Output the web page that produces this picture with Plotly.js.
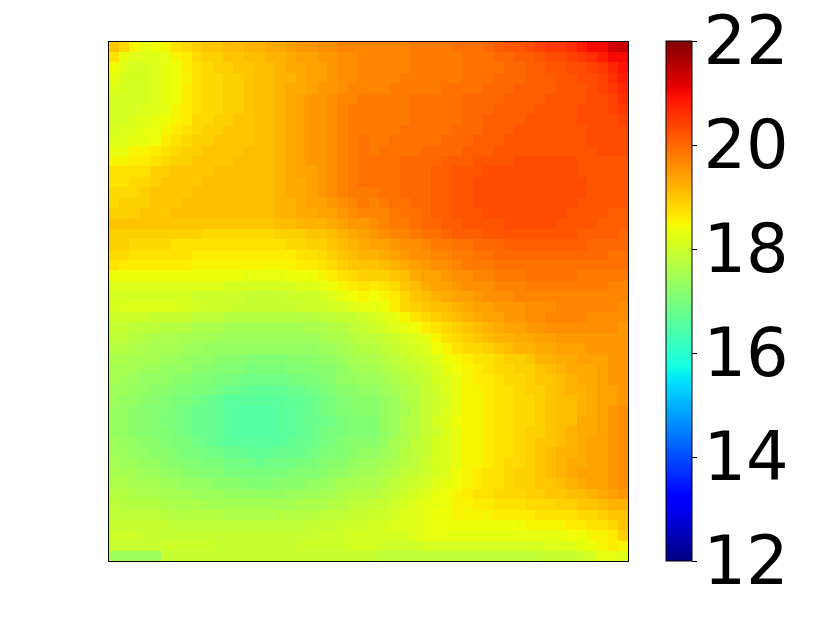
<!DOCTYPE html>
<html>
<head>
<meta charset="utf-8">
<script src="https://cdn.plot.ly/plotly-3.0.1.min.js"></script>
<style>html,body{margin:0;padding:0;background:#fff}</style>
</head>
<body>
<div id="chart" style="width:822px;height:617px"></div>
<script>
// colour bar range and labels
const zMin = 12;
const zMax = 22;
const barTicks = [12, 14, 16, 18, 20, 22];

// values, 50 rows top to bottom, 50 columns left to right
const grid = [
[19.0,18.8,18.5,18.3,18.4,18.5,18.7,18.8,18.9,19.0,19.0,19.1,19.1,19.2,19.2,19.3,19.3,19.4,19.5,19.5,19.6,19.6,19.7,19.7,19.7,19.7,19.7,19.7,19.7,19.8,19.8,19.8,19.8,19.9,19.9,19.9,20.0,20.1,20.2,20.2,20.3,20.4,20.5,20.5,20.6,20.8,21.0,21.0,21.3,21.4],
[18.7,18.3,18.2,18.2,18.2,18.3,18.5,18.6,18.8,18.9,18.9,19.0,19.0,19.1,19.1,19.2,19.2,19.3,19.4,19.4,19.5,19.5,19.6,19.6,19.7,19.7,19.7,19.7,19.7,19.8,19.8,19.8,19.8,19.8,19.9,19.9,19.9,20.0,20.0,20.1,20.1,20.2,20.3,20.3,20.4,20.5,20.6,20.8,21.0,21.0],
[18.4,18.2,18.1,18.1,18.2,18.3,18.4,18.6,18.7,18.8,18.9,18.9,19.0,19.0,19.1,19.1,19.2,19.3,19.3,19.4,19.4,19.5,19.6,19.6,19.7,19.7,19.7,19.7,19.7,19.8,19.8,19.8,19.8,19.8,19.9,19.9,19.9,19.9,20.0,20.0,20.1,20.1,20.2,20.2,20.3,20.3,20.4,20.5,20.7,20.9],
[18.3,18.1,18.1,18.1,18.2,18.3,18.4,18.5,18.7,18.8,18.8,18.9,18.9,19.0,19.1,19.1,19.2,19.2,19.3,19.4,19.4,19.5,19.6,19.6,19.7,19.7,19.7,19.7,19.8,19.8,19.8,19.8,19.8,19.8,19.9,19.9,19.9,20.0,20.0,20.0,20.1,20.1,20.1,20.2,20.2,20.3,20.3,20.4,20.6,20.8],
[18.2,18.1,18.1,18.1,18.2,18.3,18.4,18.6,18.7,18.8,18.8,18.9,18.9,19.0,19.1,19.1,19.2,19.3,19.3,19.4,19.5,19.5,19.6,19.7,19.7,19.7,19.7,19.8,19.8,19.8,19.8,19.8,19.9,19.9,19.9,19.9,20.0,20.0,20.0,20.1,20.1,20.1,20.1,20.2,20.2,20.2,20.3,20.4,20.5,20.7],
[18.1,18.1,18.1,18.1,18.2,18.3,18.4,18.6,18.7,18.8,18.8,18.9,18.9,19.0,19.1,19.1,19.2,19.3,19.4,19.5,19.5,19.6,19.7,19.7,19.8,19.8,19.8,19.8,19.8,19.9,19.9,19.9,19.9,19.9,20.0,20.0,20.0,20.0,20.1,20.1,20.1,20.1,20.2,20.2,20.2,20.2,20.3,20.3,20.4,20.6],
[18.1,18.1,18.1,18.2,18.2,18.3,18.5,18.6,18.7,18.8,18.8,18.9,18.9,19.0,19.1,19.1,19.2,19.3,19.4,19.5,19.5,19.6,19.7,19.8,19.8,19.8,19.8,19.8,19.8,19.9,19.9,19.9,19.9,19.9,20.0,20.0,20.0,20.1,20.1,20.1,20.1,20.2,20.2,20.2,20.2,20.3,20.3,20.3,20.4,20.5],
[18.1,18.1,18.2,18.2,18.3,18.4,18.5,18.6,18.8,18.8,18.9,18.9,19.0,19.0,19.1,19.1,19.2,19.3,19.4,19.5,19.5,19.6,19.7,19.8,19.8,19.8,19.8,19.8,19.8,19.9,19.9,19.9,19.9,19.9,20.0,20.0,20.1,20.1,20.1,20.1,20.2,20.2,20.2,20.2,20.2,20.3,20.3,20.3,20.3,20.4],
[18.1,18.2,18.2,18.3,18.3,18.5,18.6,18.7,18.8,18.9,18.9,19.0,19.0,19.0,19.1,19.1,19.2,19.3,19.4,19.5,19.5,19.6,19.7,19.8,19.8,19.8,19.8,19.8,19.9,19.9,19.9,19.9,19.9,20.0,20.0,20.0,20.1,20.1,20.1,20.2,20.2,20.2,20.2,20.2,20.2,20.2,20.3,20.3,20.3,20.3],
[18.2,18.2,18.3,18.3,18.4,18.6,18.7,18.8,18.9,18.9,19.0,19.0,19.0,19.0,19.1,19.1,19.2,19.3,19.4,19.5,19.5,19.6,19.7,19.8,19.9,19.8,19.8,19.9,19.9,19.9,19.9,19.9,20.0,20.0,20.0,20.1,20.1,20.1,20.2,20.2,20.2,20.2,20.2,20.2,20.2,20.2,20.3,20.3,20.3,20.3],
[18.3,18.3,18.5,18.5,18.6,18.7,18.8,18.9,18.9,19.0,19.0,19.0,19.0,19.1,19.1,19.1,19.2,19.3,19.4,19.5,19.5,19.6,19.7,19.8,19.9,19.8,19.9,19.9,19.9,19.9,20.0,20.0,20.0,20.0,20.1,20.1,20.1,20.2,20.2,20.2,20.2,20.2,20.2,20.2,20.2,20.2,20.2,20.3,20.3,20.3],
[18.5,18.5,18.6,18.6,18.7,18.8,18.9,18.9,19.0,19.0,19.0,19.0,19.1,19.1,19.1,19.1,19.2,19.3,19.4,19.5,19.5,19.6,19.7,19.8,19.9,19.9,19.9,19.9,20.0,20.0,20.0,20.0,20.1,20.1,20.1,20.2,20.2,20.2,20.2,20.3,20.3,20.3,20.3,20.3,20.3,20.2,20.2,20.2,20.2,20.2],
[18.7,18.7,18.7,18.7,18.9,18.9,19.0,19.0,19.0,19.0,19.1,19.1,19.1,19.1,19.1,19.1,19.2,19.3,19.4,19.4,19.5,19.6,19.7,19.8,19.9,19.9,19.9,19.9,20.0,20.0,20.0,20.1,20.1,20.2,20.2,20.2,20.3,20.3,20.3,20.3,20.3,20.3,20.3,20.3,20.3,20.2,20.2,20.2,20.2,20.2],
[18.7,18.7,18.8,18.8,18.9,19.0,19.0,19.0,19.0,19.1,19.1,19.1,19.1,19.1,19.1,19.1,19.2,19.3,19.3,19.4,19.5,19.6,19.7,19.8,19.9,19.9,19.9,19.9,20.0,20.0,20.0,20.1,20.1,20.2,20.2,20.3,20.3,20.3,20.3,20.3,20.3,20.3,20.3,20.3,20.3,20.3,20.2,20.2,20.2,20.2],
[18.8,18.8,18.8,18.9,19.0,19.0,19.0,19.0,19.1,19.1,19.1,19.1,19.1,19.1,19.1,19.1,19.2,19.3,19.3,19.4,19.5,19.6,19.7,19.8,19.8,19.8,19.9,19.9,20.0,20.0,20.0,20.1,20.1,20.2,20.2,20.3,20.3,20.3,20.3,20.3,20.3,20.3,20.3,20.3,20.3,20.3,20.2,20.2,20.2,20.2],
[18.8,18.9,18.9,18.9,19.0,19.0,19.0,19.1,19.1,19.1,19.1,19.1,19.1,19.1,19.1,19.1,19.2,19.2,19.3,19.4,19.4,19.5,19.6,19.7,19.8,19.7,19.8,19.9,19.9,20.0,20.0,20.1,20.1,20.2,20.2,20.3,20.3,20.3,20.3,20.3,20.3,20.3,20.3,20.3,20.3,20.2,20.2,20.2,20.2,20.2],
[18.9,18.9,18.9,19.0,19.0,19.0,19.1,19.1,19.1,19.1,19.1,19.1,19.1,19.1,19.1,19.1,19.2,19.2,19.3,19.3,19.4,19.4,19.5,19.6,19.7,19.7,19.7,19.8,19.9,19.9,20.0,20.1,20.1,20.2,20.2,20.2,20.3,20.3,20.3,20.3,20.3,20.3,20.3,20.3,20.2,20.2,20.2,20.2,20.1,20.1],
[19.0,19.0,19.0,19.0,19.0,19.0,19.0,19.0,19.0,19.0,19.0,19.0,19.0,19.0,19.0,19.0,19.1,19.1,19.2,19.2,19.2,19.3,19.4,19.5,19.5,19.6,19.7,19.8,19.8,19.9,20.0,20.0,20.1,20.1,20.2,20.2,20.2,20.2,20.3,20.3,20.3,20.3,20.3,20.2,20.2,20.2,20.2,20.1,20.1,20.1],
[18.9,18.9,18.9,18.9,18.9,18.9,18.9,18.9,18.9,18.8,18.8,18.8,18.8,18.8,18.8,18.8,18.9,18.9,18.9,19.0,19.0,19.1,19.2,19.3,19.4,19.5,19.6,19.7,19.7,19.8,19.9,19.9,20.0,20.1,20.1,20.1,20.2,20.2,20.2,20.2,20.2,20.2,20.2,20.2,20.2,20.1,20.1,20.1,20.1,20.0],
[18.9,18.9,18.8,18.8,18.8,18.8,18.7,18.7,18.7,18.7,18.7,18.7,18.7,18.7,18.7,18.7,18.7,18.8,18.8,18.9,18.9,19.0,19.1,19.2,19.3,19.4,19.4,19.5,19.6,19.6,19.7,19.8,19.8,19.9,19.9,20.0,20.0,20.0,20.1,20.1,20.1,20.1,20.1,20.1,20.1,20.1,20.0,20.0,20.0,20.0],
[18.8,18.8,18.7,18.7,18.7,18.7,18.7,18.7,18.6,18.6,18.6,18.6,18.6,18.6,18.6,18.6,18.6,18.6,18.7,18.7,18.8,18.9,19.0,19.1,19.2,19.2,19.3,19.4,19.5,19.6,19.6,19.7,19.7,19.8,19.8,19.9,19.9,20.0,20.0,20.0,20.0,20.0,20.0,20.0,20.0,20.0,20.0,20.0,19.9,19.9],
[18.7,18.6,18.6,18.6,18.6,18.6,18.6,18.6,18.5,18.5,18.5,18.5,18.5,18.5,18.5,18.5,18.5,18.5,18.6,18.6,18.7,18.8,18.9,19.0,19.0,19.0,19.1,19.2,19.3,19.4,19.5,19.6,19.6,19.7,19.8,19.8,19.8,19.9,19.9,19.9,19.9,19.9,19.9,19.9,19.9,19.9,19.9,19.9,19.9,19.9],
[18.4,18.4,18.4,18.4,18.4,18.4,18.4,18.4,18.4,18.4,18.4,18.4,18.4,18.3,18.3,18.3,18.3,18.4,18.4,18.4,18.5,18.6,18.7,18.8,18.9,18.9,18.9,19.0,19.1,19.3,19.4,19.4,19.5,19.6,19.6,19.7,19.7,19.8,19.8,19.8,19.9,19.9,19.9,19.9,19.9,19.8,19.8,19.8,19.8,19.8],
[18.2,18.2,18.2,18.2,18.2,18.2,18.2,18.2,18.2,18.2,18.2,18.1,18.1,18.1,18.1,18.1,18.1,18.1,18.2,18.2,18.3,18.4,18.5,18.6,18.7,18.6,18.7,18.8,19.0,19.1,19.3,19.4,19.4,19.5,19.6,19.6,19.6,19.7,19.7,19.7,19.8,19.8,19.8,19.8,19.8,19.8,19.8,19.8,19.7,19.7],
[18.1,18.1,18.1,18.1,18.1,18.1,18.1,18.1,18.0,18.0,18.0,18.0,18.0,17.9,17.9,17.9,17.9,18.0,18.0,18.0,18.1,18.2,18.3,18.4,18.5,18.4,18.5,18.6,18.8,19.0,19.1,19.2,19.3,19.4,19.4,19.5,19.6,19.6,19.6,19.7,19.7,19.7,19.7,19.7,19.7,19.7,19.7,19.7,19.7,19.7],
[18.1,18.2,18.2,18.2,18.2,18.2,18.2,18.1,18.1,18.0,18.0,18.0,17.9,17.9,17.9,17.9,17.9,17.9,18.0,18.0,18.0,18.1,18.1,18.2,18.3,18.3,18.4,18.6,18.8,18.9,19.0,19.1,19.1,19.2,19.3,19.4,19.4,19.5,19.5,19.5,19.6,19.6,19.6,19.7,19.7,19.7,19.7,19.7,19.7,19.6],
[18.0,18.0,18.0,18.0,17.9,17.9,17.9,17.9,17.8,17.8,17.8,17.7,17.7,17.7,17.7,17.7,17.7,17.7,17.7,17.7,17.8,17.8,17.9,17.9,18.0,18.1,18.2,18.3,18.5,18.7,18.8,18.9,19.0,19.1,19.2,19.3,19.4,19.4,19.5,19.5,19.6,19.6,19.7,19.7,19.7,19.7,19.6,19.6,19.6,19.6],
[17.9,17.9,17.8,17.8,17.8,17.7,17.7,17.7,17.6,17.6,17.6,17.5,17.5,17.5,17.5,17.5,17.5,17.5,17.5,17.6,17.6,17.7,17.7,17.8,17.9,18.0,18.1,18.2,18.3,18.4,18.6,18.7,18.8,18.9,19.0,19.1,19.2,19.3,19.4,19.4,19.5,19.5,19.6,19.6,19.6,19.6,19.6,19.6,19.6,19.5],
[17.8,17.8,17.7,17.7,17.6,17.6,17.6,17.5,17.5,17.5,17.4,17.4,17.4,17.4,17.4,17.4,17.4,17.4,17.4,17.4,17.5,17.6,17.6,17.7,17.8,17.8,17.9,18.0,18.1,18.2,18.3,18.5,18.7,18.8,18.9,19.0,19.1,19.2,19.2,19.3,19.3,19.4,19.4,19.5,19.5,19.5,19.5,19.5,19.5,19.5],
[17.7,17.7,17.6,17.6,17.5,17.5,17.5,17.4,17.4,17.3,17.3,17.3,17.3,17.3,17.3,17.3,17.3,17.3,17.3,17.3,17.4,17.4,17.5,17.6,17.7,17.7,17.8,17.9,18.0,18.1,18.2,18.4,18.5,18.7,18.8,18.8,18.9,19.0,19.1,19.2,19.2,19.3,19.3,19.4,19.4,19.4,19.5,19.5,19.5,19.5],
[17.6,17.6,17.5,17.5,17.5,17.4,17.4,17.3,17.3,17.3,17.2,17.2,17.2,17.1,17.1,17.1,17.1,17.2,17.2,17.2,17.3,17.3,17.4,17.5,17.6,17.6,17.7,17.8,17.9,18.0,18.1,18.2,18.4,18.5,18.6,18.7,18.7,18.8,18.9,18.9,19.0,19.2,19.2,19.3,19.3,19.4,19.4,19.4,19.5,19.5],
[17.5,17.5,17.5,17.4,17.4,17.3,17.3,17.3,17.2,17.2,17.1,17.1,17.1,17.0,17.0,17.0,17.0,17.1,17.1,17.1,17.2,17.2,17.3,17.4,17.5,17.5,17.6,17.7,17.8,17.9,18.0,18.1,18.3,18.4,18.5,18.6,18.7,18.8,18.8,18.9,18.9,19.0,19.1,19.2,19.3,19.3,19.3,19.4,19.5,19.5],
[17.5,17.4,17.4,17.3,17.3,17.3,17.2,17.2,17.1,17.1,17.0,17.0,16.9,16.9,16.9,16.9,16.9,16.9,17.0,17.0,17.1,17.2,17.3,17.3,17.4,17.4,17.5,17.6,17.7,17.8,17.9,18.1,18.2,18.3,18.5,18.6,18.6,18.7,18.8,18.8,18.9,19.0,19.0,19.1,19.2,19.3,19.3,19.4,19.5,19.5],
[17.4,17.4,17.3,17.3,17.2,17.2,17.1,17.1,17.0,17.0,16.9,16.8,16.8,16.7,16.7,16.7,16.7,16.8,16.8,16.9,17.0,17.1,17.2,17.2,17.3,17.3,17.4,17.5,17.6,17.7,17.9,18.0,18.2,18.3,18.5,18.5,18.6,18.7,18.7,18.8,18.9,18.9,19.0,19.1,19.2,19.2,19.3,19.4,19.4,19.5],
[17.4,17.3,17.3,17.2,17.2,17.1,17.0,17.0,16.9,16.8,16.7,16.6,16.6,16.6,16.6,16.6,16.6,16.7,16.7,16.8,16.9,17.0,17.1,17.2,17.2,17.2,17.3,17.4,17.6,17.7,17.9,18.0,18.1,18.3,18.5,18.5,18.6,18.7,18.7,18.8,18.8,18.9,19.0,19.1,19.1,19.2,19.3,19.4,19.4,19.5],
[17.3,17.3,17.2,17.2,17.1,17.1,17.0,16.9,16.8,16.8,16.7,16.6,16.5,16.5,16.5,16.5,16.6,16.6,16.7,16.8,16.9,17.0,17.1,17.1,17.2,17.2,17.3,17.4,17.5,17.7,17.9,18.0,18.2,18.3,18.5,18.5,18.6,18.7,18.7,18.8,18.8,18.9,19.0,19.1,19.1,19.2,19.3,19.4,19.5,19.6],
[17.3,17.3,17.2,17.2,17.1,17.0,17.0,16.9,16.8,16.8,16.7,16.6,16.5,16.5,16.5,16.5,16.6,16.6,16.7,16.8,16.8,16.9,17.0,17.1,17.1,17.1,17.3,17.4,17.6,17.7,17.9,18.1,18.2,18.4,18.5,18.5,18.6,18.7,18.7,18.8,18.8,18.9,19.0,19.1,19.1,19.3,19.3,19.4,19.5,19.6],
[17.3,17.3,17.2,17.2,17.1,17.1,17.0,16.9,16.8,16.8,16.7,16.6,16.5,16.5,16.5,16.5,16.6,16.6,16.7,16.8,16.9,17.0,17.0,17.1,17.1,17.1,17.3,17.4,17.6,17.7,17.9,18.0,18.2,18.3,18.5,18.5,18.6,18.7,18.7,18.8,18.9,18.9,19.0,19.1,19.2,19.3,19.3,19.4,19.5,19.6],
[17.4,17.3,17.3,17.2,17.2,17.1,17.0,17.0,16.9,16.8,16.7,16.6,16.6,16.6,16.6,16.6,16.6,16.7,16.8,16.8,16.9,17.0,17.1,17.2,17.2,17.2,17.3,17.5,17.6,17.8,17.9,18.1,18.2,18.3,18.5,18.5,18.6,18.7,18.7,18.8,18.9,19.0,19.0,19.1,19.2,19.3,19.4,19.4,19.5,19.6],
[17.4,17.4,17.3,17.3,17.2,17.2,17.1,17.0,17.0,16.9,16.9,16.8,16.8,16.7,16.7,16.7,16.8,16.8,16.8,16.9,17.0,17.1,17.1,17.2,17.3,17.3,17.4,17.5,17.7,17.8,17.9,18.1,18.2,18.3,18.5,18.5,18.6,18.7,18.7,18.8,18.9,19.0,19.1,19.2,19.2,19.3,19.4,19.4,19.5,19.6],
[17.5,17.4,17.4,17.3,17.3,17.2,17.2,17.1,17.1,17.0,17.0,16.9,16.9,16.9,16.8,16.9,16.9,16.9,17.0,17.0,17.1,17.2,17.2,17.3,17.4,17.4,17.5,17.6,17.7,17.8,18.0,18.1,18.2,18.3,18.5,18.5,18.6,18.7,18.8,18.8,18.9,19.0,19.1,19.2,19.3,19.3,19.4,19.4,19.5,19.6],
[17.5,17.5,17.5,17.4,17.4,17.3,17.3,17.2,17.2,17.1,17.1,17.0,17.0,17.0,17.0,17.0,17.0,17.1,17.1,17.1,17.2,17.3,17.3,17.4,17.5,17.5,17.6,17.7,17.8,17.9,18.0,18.1,18.2,18.4,18.5,18.6,18.7,18.7,18.8,18.9,18.9,19.0,19.1,19.2,19.3,19.4,19.4,19.4,19.5,19.6],
[17.6,17.6,17.5,17.5,17.5,17.4,17.4,17.3,17.3,17.3,17.2,17.2,17.2,17.1,17.1,17.1,17.2,17.2,17.2,17.3,17.3,17.4,17.5,17.5,17.6,17.6,17.7,17.8,17.9,18.0,18.1,18.2,18.3,18.4,18.5,18.6,18.7,18.7,18.8,18.9,18.9,19.0,19.0,19.1,19.2,19.3,19.4,19.4,19.5,19.6],
[17.7,17.7,17.6,17.6,17.6,17.5,17.5,17.5,17.4,17.4,17.4,17.3,17.3,17.3,17.3,17.3,17.3,17.4,17.4,17.4,17.5,17.5,17.6,17.7,17.7,17.7,17.8,17.9,18.0,18.1,18.2,18.3,18.4,18.5,18.6,18.7,18.7,18.8,18.8,18.8,18.9,18.9,19.0,19.0,19.1,19.1,19.2,19.3,19.4,19.5],
[17.8,17.7,17.7,17.7,17.7,17.6,17.6,17.6,17.6,17.5,17.5,17.5,17.5,17.5,17.5,17.5,17.5,17.5,17.6,17.6,17.6,17.7,17.7,17.8,17.8,17.9,17.9,18.0,18.1,18.2,18.3,18.3,18.4,18.5,18.5,18.6,18.6,18.7,18.7,18.7,18.8,18.8,18.8,18.9,18.9,19.0,19.0,19.1,19.2,19.2],
[17.8,17.8,17.8,17.8,17.8,17.7,17.7,17.7,17.7,17.7,17.7,17.6,17.6,17.6,17.6,17.6,17.7,17.7,17.7,17.7,17.8,17.8,17.8,17.9,17.9,18.0,18.0,18.1,18.2,18.2,18.3,18.4,18.4,18.5,18.5,18.5,18.5,18.6,18.6,18.6,18.6,18.7,18.7,18.7,18.7,18.8,18.8,18.9,19.0,19.0],
[17.9,17.9,17.9,17.9,17.9,17.9,17.8,17.8,17.8,17.8,17.8,17.8,17.8,17.8,17.8,17.8,17.8,17.8,17.8,17.9,17.9,17.9,18.0,18.0,18.0,18.1,18.1,18.2,18.2,18.2,18.3,18.3,18.4,18.4,18.4,18.4,18.4,18.4,18.4,18.4,18.5,18.5,18.5,18.5,18.6,18.6,18.7,18.7,18.8,19.0],
[18.0,18.0,18.0,17.9,17.9,17.9,17.9,17.9,17.9,17.9,17.9,17.9,17.9,17.9,17.9,17.9,17.9,17.9,17.9,17.9,18.0,18.0,18.0,18.1,18.1,18.1,18.1,18.1,18.1,18.2,18.3,18.3,18.3,18.3,18.3,18.3,18.3,18.3,18.3,18.3,18.3,18.3,18.3,18.3,18.4,18.4,18.5,18.5,18.6,18.9],
[17.9,17.9,17.9,17.9,17.9,18.0,18.0,18.0,18.0,18.0,17.9,17.9,17.9,17.9,17.9,17.9,17.9,17.9,18.0,18.0,18.0,18.0,18.0,18.1,18.1,18.1,18.0,18.0,18.0,18.0,18.1,18.1,18.1,18.1,18.1,18.1,18.1,18.1,18.1,18.1,18.1,18.1,18.2,18.2,18.2,18.3,18.4,18.5,18.6,18.5],
[17.4,17.4,17.4,17.4,17.4,17.9,17.9,17.9,17.9,17.9,17.9,17.9,17.9,17.9,17.9,17.9,17.9,17.9,17.9,17.9,17.9,17.9,17.9,17.9,17.9,17.9,17.8,17.8,17.8,17.8,17.8,17.8,17.8,17.8,17.8,17.8,17.8,17.8,17.8,17.8,17.8,17.9,17.9,17.9,17.9,18.0,18.1,18.3,18.3,18.2]
];

// matplotlib style jet
const jet = [
  [0, "rgb(0,0,128)"], [0.11, "rgb(0,0,255)"], [0.125, "rgb(0,0,255)"],
  [0.34, "rgb(0,219,255)"], [0.35, "rgb(0,230,247)"], [0.375, "rgb(20,255,226)"],
  [0.64, "rgb(238,255,8)"], [0.65, "rgb(247,246,0)"], [0.66, "rgb(255,236,0)"],
  [0.89, "rgb(255,19,0)"], [0.91, "rgb(233,0,0)"], [1, "rgb(128,0,0)"]
];

const W = 822, H = 617;

const trace = {
  type: "heatmap",
  z: grid,
  zmin: zMin,
  zmax: zMax,
  colorscale: jet,
  hoverinfo: "skip",
  colorbar: {
    thickness: 26,
    thicknessmode: "pixels",
    len: 520,
    lenmode: "pixels",
    x: 666 / W,
    xanchor: "left",
    y: 1 - 301 / H,
    yanchor: "middle",
    xpad: 0,
    ypad: 0,
    tickmode: "array",
    tickvals: barTicks,
    ticktext: barTicks.map(String),
    ticks: "outside",
    ticklen: 5,
    tickwidth: 1,
    tickcolor: "#000",
    tickfont: { family: "DejaVu Sans", size: 67, color: "#000" },
    outlinewidth: 1,
    outlinecolor: "#000"
  }
};

const frameAxis = {
  showticklabels: false,
  ticks: "",
  showgrid: false,
  zeroline: false,
  showline: true,
  mirror: true,
  linecolor: "#000",
  linewidth: 1
};

Plotly.newPlot("chart", [trace], {
  width: W,
  height: H,
  margin: { l: 0, r: 0, t: 0, b: 0 },
  paper_bgcolor: "#fff",
  plot_bgcolor: "#fff",
  xaxis: Object.assign({}, frameAxis, { domain: [108.5 / W, 628 / W], range: [-0.5, 49.5] }),
  yaxis: Object.assign({}, frameAxis, { domain: [1 - 561 / H, 1 - 41.5 / H], range: [49.5, -0.5] })
}, { staticPlot: true }).then(() => {
  // plotly leaves too wide a gap between the bar and its labels
  document.querySelectorAll(".colorbar text").forEach(t => {
    t.setAttribute("x", parseFloat(t.getAttribute("x") || 0) - 7);
  });
});
</script>
</body>
</html>
